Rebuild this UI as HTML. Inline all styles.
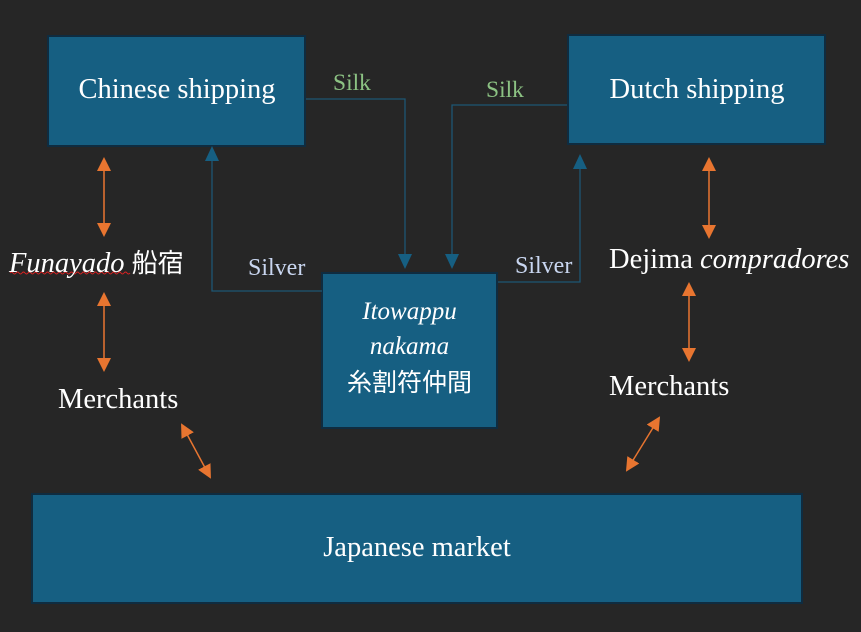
<!DOCTYPE html>
<html><head><meta charset="utf-8"><style>
body{margin:0;background:#262626;width:861px;height:632px;overflow:hidden;position:relative;font-family:"Liberation Serif","Noto Serif CJK SC",serif;color:#fff}
.b{position:absolute;background:#165f82;border:2px solid #0f2c40;box-sizing:border-box}
.t{position:absolute;white-space:nowrap}
</style></head><body>
<div class="b" style="left:47px;top:35px;width:259px;height:112px"></div>
<div class="b" style="left:567px;top:34px;width:259px;height:111px"></div>
<div class="b" style="left:321px;top:272px;width:177px;height:157px"></div>
<div class="b" style="left:31px;top:493px;width:772px;height:111px"></div>
<svg width="861" height="632" style="position:absolute;left:0;top:0">
<g stroke="#1d5673" stroke-width="1.3" fill="none">
<polyline points="306,99 405,99 405,256"/>
<polyline points="567,105 452,105 452,256"/>
<polyline points="322,291 212,291 212,160"/>
<polyline points="498,282 580,282 580,168"/>
</g>
<g fill="#165f82">
<polygon points="398,254 412,254 405,269"/>
<polygon points="445,254 459,254 452,269"/>
<polygon points="205,161 219,161 212,146"/>
<polygon points="573,169 587,169 580,154"/>
</g>
<defs><marker id="o" markerWidth="16" markerHeight="16" refX="12" refY="7" orient="auto-start-reverse" markerUnits="userSpaceOnUse"><polygon points="0,0 14,7 0,14" fill="#e87530"/></marker></defs>
<g stroke="#e87530" stroke-width="1.5" marker-start="url(#o)" marker-end="url(#o)">
<line x1="104" y1="159" x2="104" y2="235"/>
<line x1="104" y1="294" x2="104" y2="370"/>
<line x1="182" y1="425" x2="210" y2="477"/>
<line x1="709" y1="159" x2="709" y2="237"/>
<line x1="689" y1="284" x2="689" y2="360"/>
<line x1="659" y1="418" x2="627" y2="470"/>
</g>
<path d="M10 273 q1.5 -2 3 0 t3 0 t3 0 t3 0 t3 0 t3 0 t3 0 t3 0 t3 0 t3 0 t3 0 t3 0 t3 0 t3 0 t3 0 t3 0 t3 0 t3 0 t3 0 t3 0 t3 0 t3 0 t3 0 t3 0 t3 0 t3 0 t3 0 t3 0 t3 0 t3 0 t3 0 t3 0 t3 0 t3 0 t3 0 t3 0 t3 0 t3 0 t3 0 t3 0" stroke="#d22" stroke-width="1" fill="none"/>
</svg>
<div class="t" style="left:48px;width:258px;top:74px;text-align:center;font-size:28.5px">Chinese shipping</div>
<div class="t" style="left:568px;width:258px;top:74px;text-align:center;font-size:28.5px">Dutch shipping</div>
<div class="t" style="left:31px;width:772px;top:532px;text-align:center;font-size:28.5px">Japanese market</div>
<div class="t" style="left:321px;width:177px;top:294px;text-align:center;font-size:25px;line-height:35px"><i>Itowappu</i><br><i>nakama</i><br><span style="font-family:'Noto Sans CJK JP',sans-serif;font-size:25px">糸割符仲間</span></div>
<div class="t" style="left:333px;top:70px;font-size:23.5px;color:#8cc283">Silk</div>
<div class="t" style="left:486px;top:77px;font-size:23.5px;color:#8cc283">Silk</div>
<div class="t" style="left:248px;top:255px;font-size:24px;color:#c9d6f0">Silver</div>
<div class="t" style="left:515px;top:253px;font-size:24px;color:#c9d6f0">Silver</div>
<div class="t" style="left:9px;top:243px;font-size:28.5px"><i>Funayado</i> <span style="font-family:'Noto Sans CJK JP',sans-serif;font-size:26px">船宿</span></div>
<div class="t" style="left:58px;top:384px;font-size:28.5px">Merchants</div>
<div class="t" style="left:609px;top:244px;font-size:28.5px">Dejima <i>compradores</i></div>
<div class="t" style="left:609px;top:371px;font-size:28.5px">Merchants</div>
</body></html>
